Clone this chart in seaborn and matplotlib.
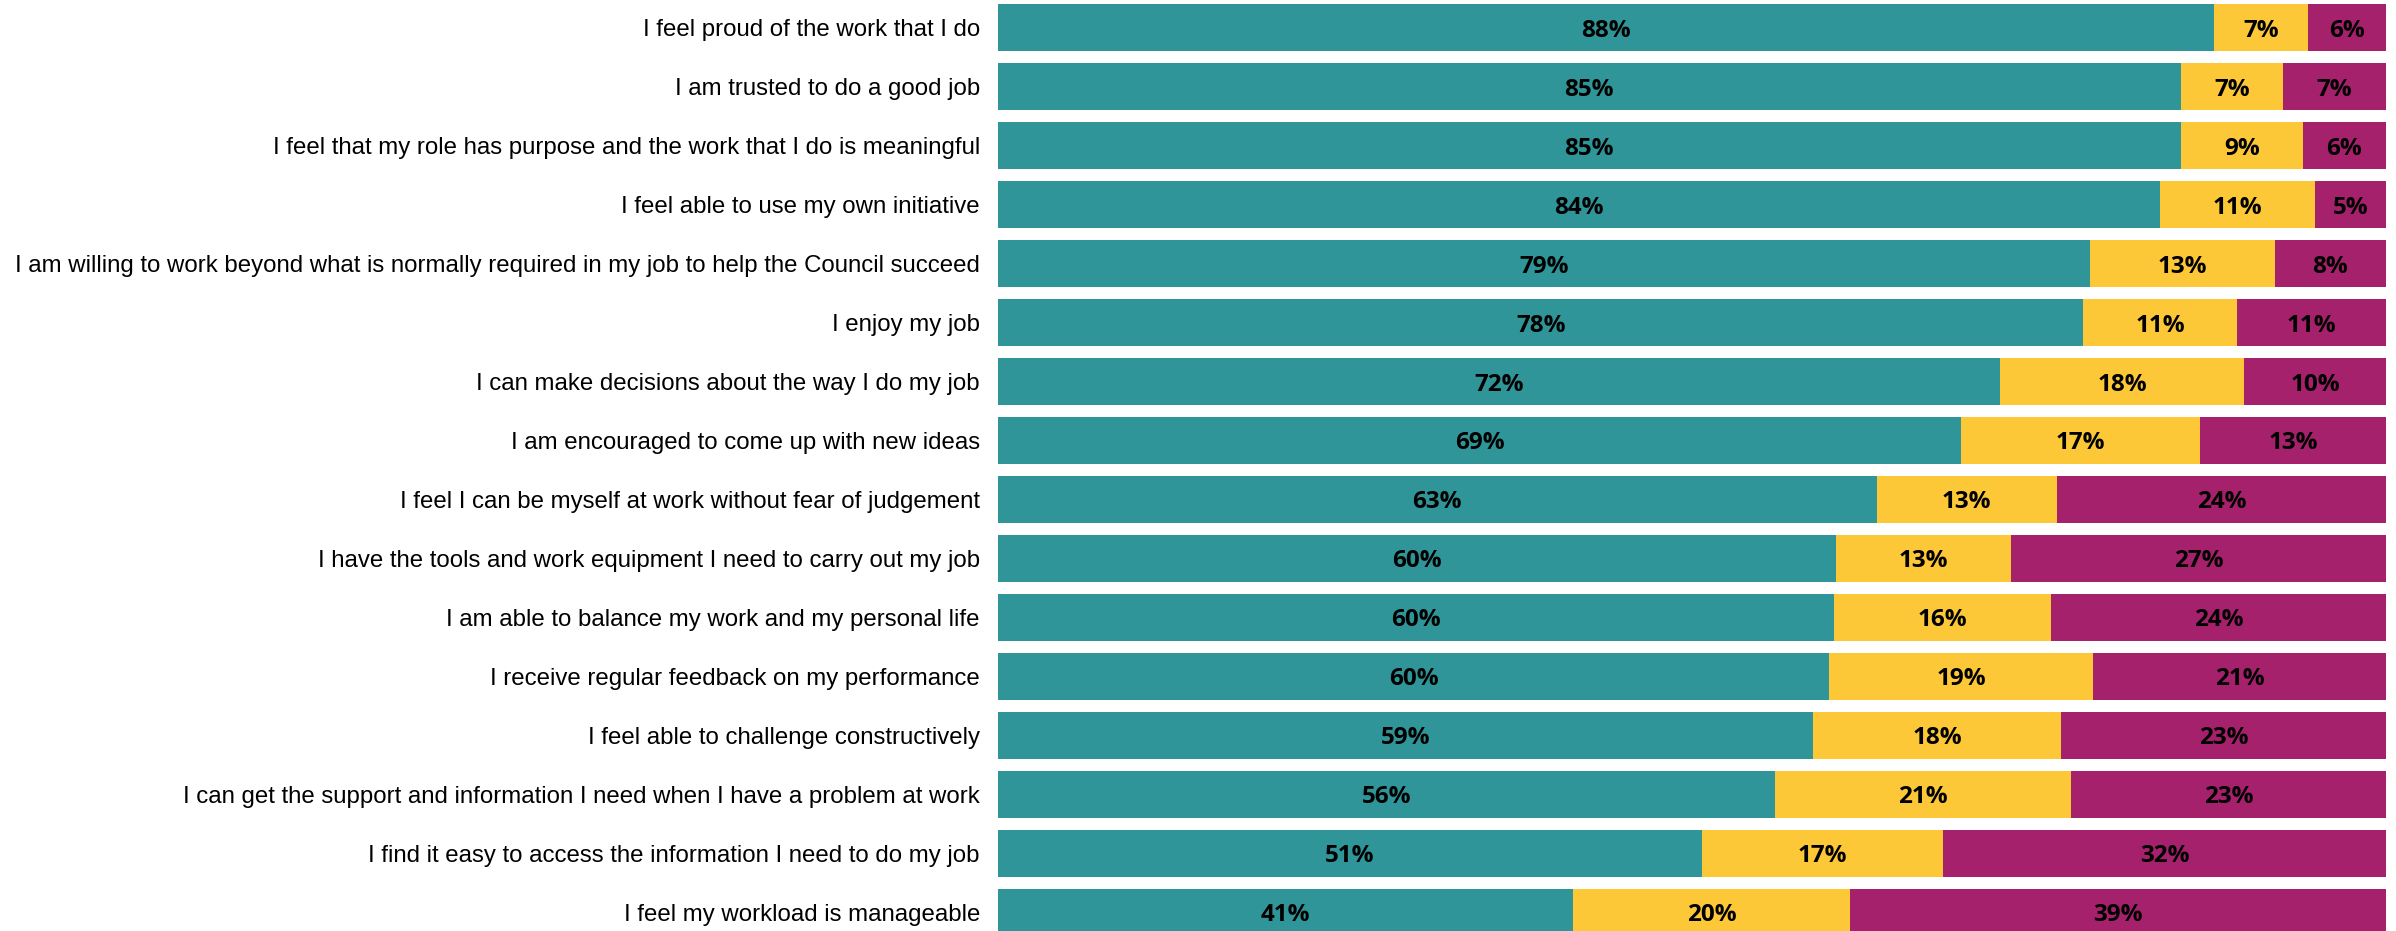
import matplotlib
matplotlib.use("Agg")
import matplotlib.pyplot as plt
import numpy as np
import pandas as pd
import seaborn as sns

statements = [
    "I feel proud of the work that I do",
    "I am trusted to do a good job",
    "I feel that my role has purpose and the work that I do is meaningful",
    "I feel able to use my own initiative",
    "I am willing to work beyond what is normally required in my job to help the Council succeed",
    "I enjoy my job",
    "I can make decisions about the way I do my job",
    "I am encouraged to come up with new ideas",
    "I feel I can be myself at work without fear of judgement",
    "I have the tools and work equipment I need to carry out my job",
    "I am able to balance my work and my personal life",
    "I receive regular feedback on my performance",
    "I feel able to challenge constructively",
    "I can get the support and information I need when I have a problem at work",
    "I find it easy to access the information I need to do my job",
    "I feel my workload is manageable",
]
agree = [87.6, 85.2, 85.2, 83.7, 78.7, 78.2, 72.2, 69.4, 63.3, 60.4, 60.2, 59.9, 58.7, 56.0, 50.7, 41.4]
neutral = [6.8, 7.4, 8.8, 11.2, 13.3, 11.1, 17.6, 17.2, 13.0, 12.6, 15.7, 19.0, 17.9, 21.3, 17.4, 20.0]
disagree = [5.6, 7.4, 6.0, 5.1, 8.0, 10.7, 10.2, 13.4, 23.7, 27.0, 24.1, 21.1, 23.4, 22.7, 31.9, 38.6]

colors = {"agree": "#2F9598", "neutral": "#FDC838", "disagree": "#A5216B"}

sns.set_style("white")
plt.rcParams["font.family"] = ["Liberation Sans", "DejaVu Sans"]

df = pd.DataFrame({
    "statement": statements,
    "agree": agree,
    "neutral": neutral,
    "disagree": disagree,
})
df["cum_neutral"] = df["agree"] + df["neutral"]
df["cum_total"] = df["cum_neutral"] + df["disagree"]

fig = plt.figure(figsize=(23.96, 9.31), dpi=100)
ax = fig.add_axes([998 / 2396, 0, 1388 / 2396, 1])

# stacked bars drawn back to front as cumulative totals
for col, key in [("cum_total", "disagree"), ("cum_neutral", "neutral"), ("agree", "agree")]:
    sns.barplot(data=df, y="statement", x=col, color=colors[key], orient="h",
                width=0.8, saturation=1, ax=ax, linewidth=0, errorbar=None)

# percentage labels centred in each segment
for i, row in df.iterrows():
    starts = [0, row["agree"], row["cum_neutral"]]
    vals = [row["agree"], row["neutral"], row["disagree"]]
    for s, v in zip(starts, vals):
        ax.text(s + v / 2, i + 0.05, f"{v:.0f}%", ha="center", va="center",
                fontsize=17.5, fontweight="bold", family=["Open Sans", "DejaVu Sans"],
                color="black")

ax.set_xlim(0, 100)
ax.set_ylim(15.314, -0.468)
ax.set_xlabel("")
ax.set_ylabel("")
ax.set_xticks([])
ax.tick_params(axis="y", length=0, pad=13, labelsize=17.3, labelcolor="black")
for sp in ax.spines.values():
    sp.set_visible(False)

fig.savefig("out.png", dpi=100)
